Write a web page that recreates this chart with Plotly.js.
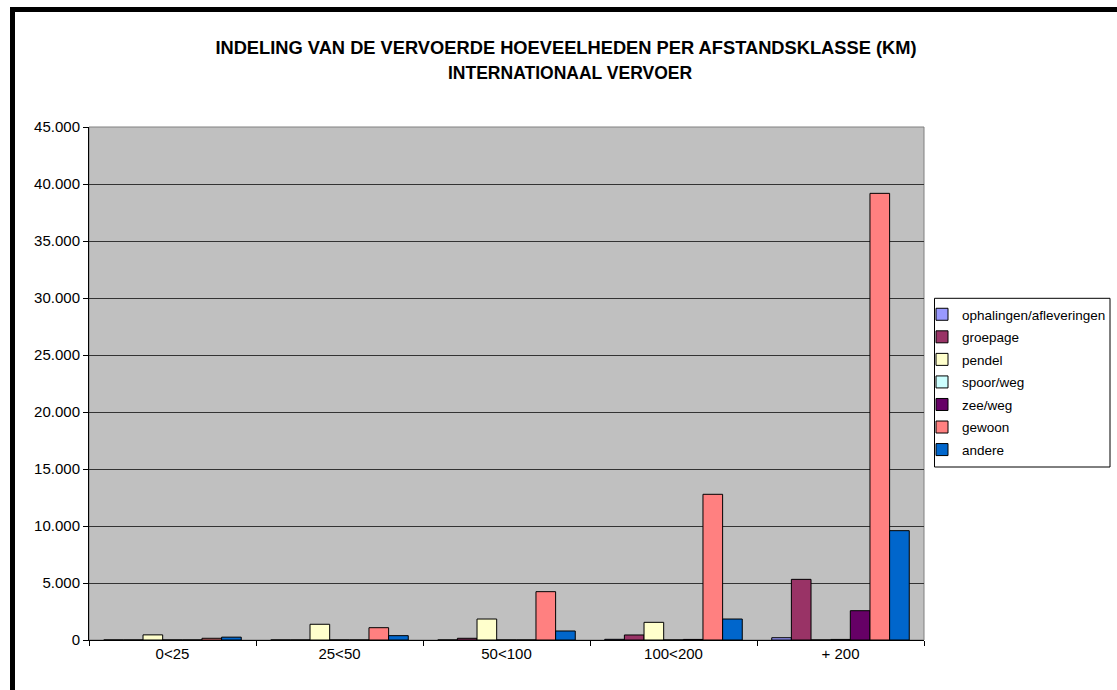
<!DOCTYPE html>
<html>
<head>
<meta charset="utf-8">
<script src="https://cdn.plot.ly/plotly-3.0.1.min.js"></script>
<style>html,body{margin:0;padding:0;background:#fff;}#chart{width:1117px;height:690px;}</style>
</head>
<body>
<div id="chart"></div>
<script>
const categories = ['0<25', '25<50', '50<100', '100<200', '+ 200'];
const seriesNames = ['ophalingen/afleveringen', 'groepage', 'pendel', 'spoor/weg', 'zee/weg', 'gewoon', 'andere'];
const ophalingen = [0, 0, 0, 60, 200];
const groepage = [0, 0, 150, 440, 5320];
const pendel = [450, 1380, 1840, 1550, 0];
const spoorWeg = [0, 0, 0, 0, 50];
const zeeWeg = [0, 0, 0, 50, 2570];
const gewoon = [150, 1080, 4240, 12780, 39180];
const andere = [250, 380, 790, 1840, 9590];
const yTicks = [0, 5000, 10000, 15000, 20000, 25000, 30000, 35000, 40000, 45000];
const titleLine1 = 'INDELING VAN DE VERVOERDE HOEVEELHEDEN PER AFSTANDSKLASSE (KM)';
const titleLine2 = 'INTERNATIONAAL VERVOER';

const values = [ophalingen, groepage, pendel, spoorWeg, zeeWeg, gewoon, andere];
const colors = ['#9999FF', '#993366', '#FFFFCC', '#CCFFFF', '#660066', '#FF8080', '#0066CC'];
const FONT = 'Liberation Sans, Arial, sans-serif';

const traces = seriesNames.map((name, i) => ({
  type: 'bar',
  name: name,
  x: categories,
  y: values[i],
  legendgroup: 'g' + i,
  marker: {color: colors[i], line: {color: '#000000', width: 1}},
  hoverinfo: 'x+y+name'
}));

// pixel helpers for paper coords (plot area: x 89..924, y 127..640)
const px = p => (p - 89) / 835;
const py = p => (640 - p) / 513;

const layout = {
  width: 1117,
  height: 690,
  margin: {l: 89, r: 193, t: 127, b: 50, pad: 0, autoexpand: false},
  paper_bgcolor: '#ffffff',
  plot_bgcolor: '#C0C0C0',
  separators: ',.',
  font: {family: FONT, size: 15, color: '#000000'},
  barmode: 'group',
  bargap: 1.5 / 8.5,
  bargroupgap: 0,
  title: {
    text: titleLine1,
    font: {family: FONT, size: 18.3, color: '#000000', weight: 'bold'},
    x: 566 / 1117, xanchor: 'center', xref: 'container',
    y: 1 - 48 / 690, yanchor: 'middle', yref: 'container'
  },
  annotations: [{
    text: titleLine2, showarrow: false,
    xref: 'paper', yref: 'paper', x: px(570), y: py(72.7),
    xanchor: 'center', yanchor: 'middle',
    font: {family: FONT, size: 17.5, color: '#000000', weight: 'bold'}
  }],
  xaxis: {
    type: 'category',
    showline: true, linecolor: '#000000', linewidth: 1,
    ticks: 'outside', tickson: 'boundaries', ticklen: 5, tickcolor: '#000000',
    showgrid: false, zeroline: false,
    tickfont: {family: FONT, size: 15, color: '#000000'},
    fixedrange: true
  },
  yaxis: {
    range: [0, 45000],
    tickvals: yTicks,
    tickformat: ',d',
    showline: true, linecolor: '#000000', linewidth: 1,
    ticks: 'outside', ticklen: 5, tickcolor: '#000000',
    showgrid: true, gridcolor: '#333333', gridwidth: 1,
    zeroline: false,
    tickfont: {family: FONT, size: 15, color: '#000000'},
    fixedrange: true
  },
  showlegend: true,
  legend: {
    x: px(922), y: py(299), xanchor: 'left', yanchor: 'top',
    bgcolor: 'rgba(0,0,0,0)', borderwidth: 0,
    traceorder: 'grouped', tracegroupgap: 2,
    font: {family: FONT, size: 13.5, color: '#000000'}
  },
  shapes: [
    // plot area top/right gray border
    {type: 'rect', xref: 'paper', yref: 'paper', x0: 0, x1: 1, y0: 0, y1: 1,
     line: {color: '#808080', width: 1}, fillcolor: 'rgba(0,0,0,0)', layer: 'below'},
    // legend box
    {type: 'rect', xref: 'paper', yref: 'paper', x0: px(934.5), x1: px(1110), y0: py(467), y1: py(298.3),
     line: {color: '#000000', width: 1}, fillcolor: '#ffffff', layer: 'below'},
    // page frame (left and top black bars)
    {type: 'rect', xref: 'paper', yref: 'paper', x0: px(10), x1: px(15), y0: py(700), y1: py(7),
     line: {width: 0}, fillcolor: '#000000'},
    {type: 'rect', xref: 'paper', yref: 'paper', x0: px(10), x1: px(1130), y0: py(12), y1: py(7),
     line: {width: 0}, fillcolor: '#000000'}
  ]
};

Plotly.newPlot('chart', traces, layout, {displayModeBar: false, staticPlot: true});
</script>
</body>
</html>
